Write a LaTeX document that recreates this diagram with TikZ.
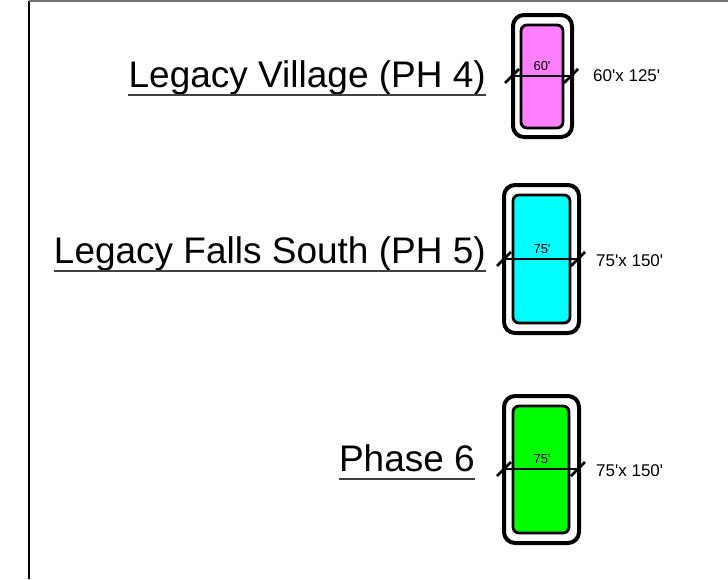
\documentclass[tikz,border=0pt]{standalone}
\usepackage{fontspec}
\setmainfont{Liberation Sans}[Ligatures=TeXOff]
\usepackage{tikz}
\definecolor{lotpink}{HTML}{FF80FF}
\definecolor{lotcyan}{HTML}{00FFFF}
\definecolor{lotgreen}{HTML}{00FF00}
\tikzset{
  lotouter/.style={draw=black, line width=4pt, rounded corners=11pt},
  lotinner/.style={draw=black, line width=2.8pt, rounded corners=6pt},
  dimline/.style={draw=black, line width=2pt},
  tickmark/.style={draw=black, line width=2.5pt},
  phaselabel/.style={inner sep=0pt, anchor=base east, font=\fontsize{37}{40}\selectfont},
  underline/.style={draw=black!75, line width=1.5pt},
  widthlabel/.style={inner sep=0pt, anchor=base, font=\fontsize{13}{15}\selectfont},
  sizelabel/.style={inner sep=0pt, anchor=base west, font=\fontsize{17}{20}\selectfont}
}
\begin{document}
\begin{tikzpicture}[x=1pt, y=-1pt]

  \useasboundingbox (0,0) rectangle (728,579);

  % frame
  \draw[line width=2pt] (29,579) -- (29,1);
  \draw[line width=1.5pt, black!55] (29,1) -- (728,1);

  % phase labels
  \node[phaselabel] (village) at (486,87) {Legacy Village (PH 4)};
  \node[phaselabel] (falls) at (486,263) {Legacy Falls South (PH 5)};
  \node[phaselabel] (phase) at (475,471) {Phase 6};
  % underlines
  \draw[underline] ([yshift=-8pt]village.base west) -- ([yshift=-8pt]village.base east);
  \draw[underline] ([yshift=-8pt]falls.base west) -- ([yshift=-8pt]falls.base east);
  \draw[underline] ([yshift=-8pt]phase.base west) -- ([yshift=-8pt]phase.base east);

  % first lot (60' x 125')
  \draw[lotouter] (513,15) rectangle (572,137);
  \draw[lotinner, fill=lotpink] (521,25) rectangle (563,128);
  \coordinate (pinkL) at (512,76);
  \coordinate (pinkR) at (571,76);
  \draw[dimline] (pinkL) -- (pinkR);
  \draw[tickmark] ([shift={(-7,7)}]pinkL) -- ([shift={(7,-7)}]pinkL);
  \draw[tickmark] ([shift={(-7,7)}]pinkR) -- ([shift={(7,-7)}]pinkR);
  \node[widthlabel] (pinkw) at (542,70) {60'};
  \node[sizelabel] (pinks) at (593,81) {60'x 125'};

  % second lot (75' x 150')
  \draw[lotouter] (504,185) rectangle (579,333);
  \draw[lotinner, fill=lotcyan] (513,195) rectangle (570,323);
  \coordinate (cyanL) at (504,259);
  \coordinate (cyanR) at (578,259);
  \draw[dimline] (cyanL) -- (cyanR);
  \draw[tickmark] ([shift={(-7,7)}]cyanL) -- ([shift={(7,-7)}]cyanL);
  \draw[tickmark] ([shift={(-7,7)}]cyanR) -- ([shift={(7,-7)}]cyanR);
  \node[widthlabel] (cyanw) at (542,253) {75'};
  \node[sizelabel] (cyans) at (596,266) {75'x 150'};

  % third lot (75' x 150')
  \draw[lotouter] (504,396) rectangle (579,543);
  \draw[lotinner, fill=lotgreen] (513,406) rectangle (569,533);
  \coordinate (greenL) at (504,469);
  \coordinate (greenR) at (578,469);
  \draw[dimline] (greenL) -- (greenR);
  \draw[tickmark] ([shift={(-7,7)}]greenL) -- ([shift={(7,-7)}]greenL);
  \draw[tickmark] ([shift={(-7,7)}]greenR) -- ([shift={(7,-7)}]greenR);
  \node[widthlabel] (greenw) at (542,463) {75'};
  \node[sizelabel] (greens) at (596,476) {75'x 150'};

\end{tikzpicture}
\end{document}
